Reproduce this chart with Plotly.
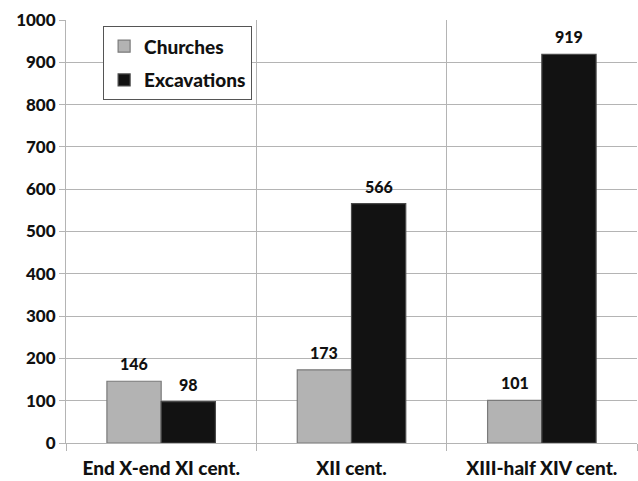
import plotly.graph_objects as go

# Periods and counts per series
periods = ["End X-end XI cent.", "XII cent.", "XIII-half XIV cent."]
churches = [146, 173, 101]
excavations = [98, 566, 919]

FONT = "Lato"
WEIGHT = 900
GRID = "#b4b4b4"

fig = go.Figure()
fig.add_trace(go.Bar(
    name="Churches", x=periods, y=churches, legendgroup="c",
    offsetgroup="c",
    marker=dict(color="#b3b3b3", line=dict(color="#7a7a7a", width=1.2)),
))
fig.add_trace(go.Bar(
    name="Excavations", x=periods, y=excavations, legendgroup="e",
    offsetgroup="e",
    marker=dict(color="#121212", line=dict(color="#4a4a4a", width=1.2)),
))

# Value labels above each bar, shifted to the bar's side of the group
for vals, dx in ((churches, -0.143), (excavations, 0.143)):
    for i, v in enumerate(vals):
        fig.add_annotation(
            x=i + dx, y=v, text=str(v), showarrow=False,
            yanchor="bottom", yshift=6,
            font=dict(family=FONT, size=16, color="#111", weight=WEIGHT),
        )

fig.update_layout(
    width=638, height=481,
    margin=dict(l=66, r=1, t=20, b=38),
    paper_bgcolor="white", plot_bgcolor="white",
    barmode="group", bargap=0.43, bargroupgap=0,
    font=dict(family=FONT, color="#111", size=16, weight=WEIGHT),
    legend=dict(
        x=0.065, y=0.985, xanchor="left", yanchor="top",
        bgcolor="white", bordercolor="#555", borderwidth=1,
        font=dict(family=FONT, size=19, color="#111", weight=WEIGHT),
        itemwidth=30, tracegroupgap=6,
    ),
    xaxis=dict(
        tickson="boundaries", showgrid=True, gridcolor=GRID, gridwidth=1,
        ticks="outside", ticklen=7, tickcolor=GRID,
        showline=True, linecolor=GRID, mirror=False,
        ticklabelstandoff=8,
        tickfont=dict(family=FONT, size=19, color="#111", weight=WEIGHT),
    ),
    yaxis=dict(
        range=[0, 1000], dtick=100, showgrid=True, gridcolor=GRID, gridwidth=1,
        ticks="outside", ticklen=6, tickcolor=GRID,
        showline=True, linecolor=GRID, zeroline=False,
        tickfont=dict(family=FONT, size=17, color="#111", weight=WEIGHT),
    ),
)

fig.write_html("out.html")
